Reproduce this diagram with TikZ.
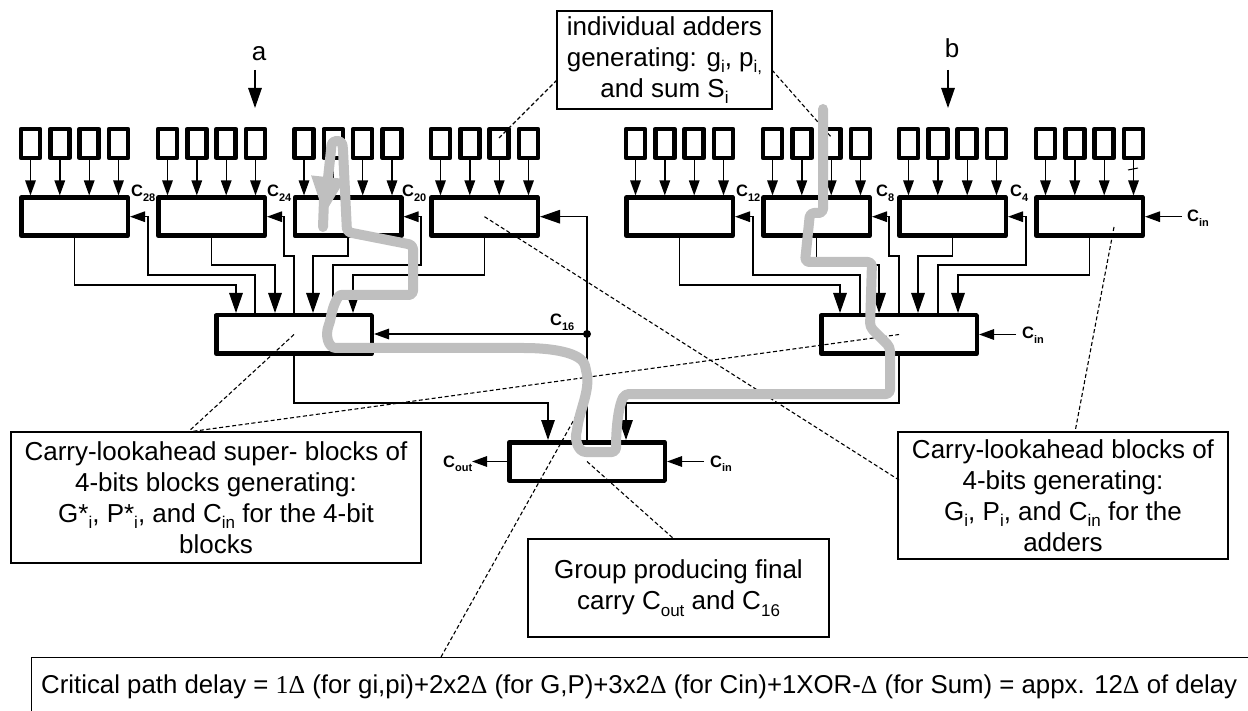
\documentclass[tikz,border=0pt]{standalone}
\usepackage{fontspec}
\setmainfont{Liberation Sans}
\newfontfamily\serifdelta{Liberation Serif}
\usetikzlibrary{arrows.meta,calc}
\definecolor{pathgray}{HTML}{BFBFBF}
\newcommand{\lsub}[1]{\raisebox{-6.5pt}{\fontsize{17}{17}\selectfont #1}}
\newcommand{\csub}[1]{\raisebox{-4.5pt}{\fontsize{11}{11}\selectfont #1}}
\newcommand{\dlt}{{\serifdelta Δ}}
\tikzset{
  x=1pt,y=-1pt,
  addbox/.style={draw,line width=4.5pt,line join=round,fill=white,inner sep=0pt,minimum width=19pt,minimum height=29pt},
  blockbox/.style={draw,line width=4.5pt,line join=round,fill=white,inner sep=0pt,minimum width=106.5pt,minimum height=38pt},
  superbox/.style={draw,line width=4.5pt,line join=round,fill=white,inner sep=0pt,minimum width=155.5pt,minimum height=38.5pt},
  callout/.style={draw,line width=1.2pt,fill=white,inner sep=0pt,align=center,font=\fontsize{26}{31}\selectfont},
  conn/.style={line width=1.4pt},
  sarr/.style={conn,-{Triangle[length=15pt,width=10.5pt]}},
  barr/.style={conn,-{Triangle[length=20pt,width=13.5pt]}},
  leader/.style={line width=1.1pt,dash pattern=on 4pt off 2.5pt},
  clabel/.style={inner sep=0pt,anchor=base west,font=\fontsize{16.5}{18}\selectfont\bfseries},
  gpath/.style={line width=10pt,color=pathgray,line cap=round,line join=round},
}
\begin{document}
\begin{tikzpicture}
\useasboundingbox (0,0) rectangle (1248,711);
\begin{scope}
\clip (0,0) rectangle (1248,711);
% blocks
\foreach \n/\xc in {1/74.5,2/211.5,3/348,4/484.5,5/679.5,6/816.5,7/952.5,8/1089.5}{
  \node[blockbox] (b\n) at (\xc,216.7) {};
  \foreach \k/\dx in {1/-44,2/-14.7,3/14.7,4/44}{
    \node[addbox] (a\n\k) at (\xc+\dx,143.5) {};
    \draw[sarr] (a\n\k.south) -- (a\n\k.south |- b\n.north);
  }
}
\node[superbox] (sl) at (294,334.5) {};
\node[superbox] (sr) at (899,334.5) {};
\node[superbox] (fin) at (587,461.5) {};
% callouts
\node[callout,minimum width=215pt,minimum height=98pt] (ct) at (664.5,60)
  {individual adders\\generating: g\lsub{i}, p\lsub{i,}\\and sum S\lsub{i}};
\node[callout,minimum width=410pt,minimum height=131pt] (cl) at (216,497.5)
  {Carry-lookahead super- blocks of\\4-bits blocks generating:\\G*\lsub{i}, P*\lsub{i}, and C\lsub{in} for the 4-bit\\blocks};
\node[callout,minimum width=330pt,minimum height=127pt] (cr) at (1063,495.5)
  {Carry-lookahead blocks of\\4-bits generating:\\G\lsub{i}, P\lsub{i}, and C\lsub{in} for the\\adders};
\node[callout,minimum width=301pt,minimum height=98pt] (cc) at (678.5,588)
  {Group producing final\\carry C\lsub{out} and C\lsub{16}};
\node[callout,anchor=north west,minimum width=1240pt,minimum height=70pt] (cb) at (30.5,657) {};
\node[inner sep=0pt,anchor=base west,font=\fontsize{25.8}{30}\selectfont] (cbt) at (41,693)
  {Critical path delay = {\serifdelta 1Δ} (for gi,pi)+2x2\dlt{} (for G,P)+3x2\dlt{} (for Cin)+1XOR-\dlt{} (for Sum) = appx. 12\dlt{} of delay};
% input arrows a, b
\node[inner sep=0pt,anchor=base,font=\fontsize{26}{30}\selectfont] (la) at (259,61) {a};
\node[inner sep=0pt,anchor=base,font=\fontsize{26}{30}\selectfont] (lb) at (952,58) {b};
\coordinate (ia) at (255,70);
\coordinate (ib) at (948,70);
\coordinate (ta) at (255,108);
\coordinate (tb) at (948,108);
\draw[barr] (ia) -- (ta);
\draw[barr] (ib) -- (tb);
% left tree
\coordinate (p1) at (236,285); \draw[barr] (b1.south) |- (p1) -- (p1 |- sl.north);
\coordinate (p2) at (275,265); \draw[barr] (b2.south) |- (p2) -- (p2 |- sl.north);
\coordinate (p3) at (313,256); \draw[barr] (b3.south) |- (p3) -- (p3 |- sl.north);
\coordinate (p4) at (353,275); \draw[barr] (b4.south) |- (p4) -- (p4 |- sl.north);
\coordinate (r1) at (255,275); \coordinate (q1) at (148,275);
\draw[sarr] (r1 |- sl.north) -- (r1) -- (q1) |- (b1.east);
\coordinate (r2) at (294,256); \coordinate (q2) at (284,256);
\draw[sarr] (r2 |- sl.north) -- (r2) -- (q2) |- (b2.east);
\coordinate (r3) at (333,265); \coordinate (q3) at (421,265);
\draw[sarr] (r3 |- sl.north) -- (r3) -- (q3) |- (b3.east);
% right tree
\coordinate (p5) at (840,285); \draw[barr] (b5.south) |- (p5) -- (p5 |- sr.north);
\coordinate (p6) at (879,265); \draw[barr] (b6.south) |- (p6) -- (p6 |- sr.north);
\coordinate (p7) at (918,256); \draw[barr] (b7.south) |- (p7) -- (p7 |- sr.north);
\coordinate (p8) at (958,275); \draw[barr] (b8.south) |- (p8) -- (p8 |- sr.north);
\coordinate (r5) at (860,275); \coordinate (q5) at (753,275);
\draw[sarr] (r5 |- sr.north) -- (r5) -- (q5) |- (b5.east);
\coordinate (r6) at (899,256); \coordinate (q6) at (889,256);
\draw[sarr] (r6 |- sr.north) -- (r6) -- (q6) |- (b6.east);
\coordinate (r7) at (938,265); \coordinate (q7) at (1026,265);
\draw[sarr] (r7 |- sr.north) -- (r7) -- (q7) |- (b7.east);
% tick on last adder line
\coordinate (tk1) at (1128,170); \coordinate (tk2) at (1138,168);
\draw[line width=1pt] (tk1) -- (tk2);
% top level
\coordinate (jn) at (587,334);
\draw[conn] (fin.north) -- (jn);
\draw[barr] (jn) |- (b4.east);
\draw[sarr] (jn) -- (sl.east |- jn);
\fill (jn) circle (4);
\coordinate (f1) at (548,403); \draw[barr] (sl.south) |- (f1) -- (f1 |- fin.north);
\coordinate (f2) at (626,403); \draw[barr] (sr.south) |- (f2) -- (f2 |- fin.north);
% carry in / out
\coordinate (ci1) at (1182,216.7); \draw[sarr] (ci1) -- (b8.east);
\coordinate (ci2) at (1016,334.5); \draw[sarr] (ci2) -- (sr.east);
\coordinate (ci3) at (704,461.5); \draw[sarr] (ci3) -- (fin.east);
\coordinate (co) at (472,461.5); \draw[sarr] (fin.west) -- (co);
% labels
\node[clabel] (c28) at (131,197) {C\csub{28}};
\node[clabel] (c24) at (267,197) {C\csub{24}};
\node[clabel] (c20) at (402,197) {C\csub{20}};
\node[clabel] (c12) at (736,197) {C\csub{12}};
\node[clabel] (c8) at (876,197) {C\csub{8}};
\node[clabel] (c4) at (1010,197) {C\csub{4}};
\node[clabel] (c16) at (550,326) {C\csub{16}};
\node[clabel] (cin1) at (1187,222) {C\csub{in}};
\node[clabel] (cin2) at (1022,339) {C\csub{in}};
\node[clabel] (cin3) at (710,467) {C\csub{in}};
\node[clabel] (cout) at (443,467) {C\csub{out}};
% dashed leaders
\coordinate (d1) at (499,138); \coordinate (d1s) at (557,80);
\draw[leader] (d1s) -- (d1);
\coordinate (d2) at (832,138); \coordinate (d2s) at (772,70);
\draw[leader] (d2s) -- (d2);
\coordinate (d3) at (188,432);
\draw[leader] (sl.center) -- (d3) -- (sr.center);
\coordinate (d4) at (899,480);
\draw[leader] (b4.center) -- (d4);
\coordinate (d5) at (1114,227); \coordinate (d5e) at (1075,432);
\draw[leader] (d5) -- (d5e);
\coordinate (d6) at (674,539);
\draw[leader] (fin.center) -- (d6);
\coordinate (d7) at (441,657); \coordinate (d7e) at (585,400);
\draw[leader] (d7) -- (d7e);
% gray critical path
\draw[gpath,rounded corners=4pt,-{Triangle[length=39pt,width=31pt]}]
  (823,109) -- (823,213) -- (810,213) -- (805,262) -- (872,262) -- (870,327) -- (890,347) -- (890,394) -- (625,394)
  .. controls (619,405) and (616,425) .. (616,452) -- (590,452)
  .. controls (578,452) and (575,440) .. (577,430)
  .. controls (580,410) and (590,390) .. (586,370)
  .. controls (582,352) and (550,348) .. (520,348) -- (340,348)
  .. controls (328,348) and (325,335) .. (330,322)
  .. controls (333,305) and (338,295) .. (345,295) -- (413,295) -- (413,245) -- (347,232) -- (343,150)
  .. controls (342,139) and (332,139) .. (331,150) -- (324,216);
\draw[gpath] (324,200) -- (323,227);
\end{scope}
\end{tikzpicture}
\end{document}
